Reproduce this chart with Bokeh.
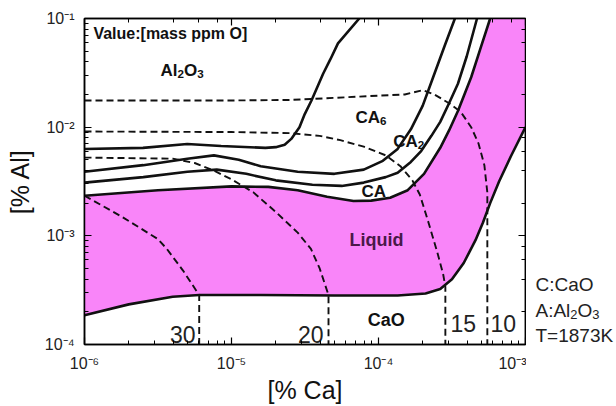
import numpy as np
from bokeh.plotting import figure
from bokeh.layouts import row
from bokeh.models import LogAxis, LogTicker, CustomJSTickFormatter, Range1d
from bokeh.core.properties import value
from bokeh.embed import file_html
from bokeh.resources import INLINE

FONT = "Liberation Sans"

# ---- phase boundaries (% Ca, % Al) ----
al2o3_ca6_ca = [1.0e-6, 2.5e-6, 5.0e-6, 8.5e-6, 1.7e-5, 2.0e-5, 2.3e-5, 2.55e-5, 2.9e-5, 3.15e-5, 3.5e-5, 4.2e-5, 4.7e-5, 5.3e-5, 7.4e-5]
al2o3_ca6_al = [6.3e-3, 6.45e-3, 7.0e-3, 6.7e-3, 6.45e-3, 6.55e-3, 6.9e-3, 7.8e-3, 1.0e-2, 1.32e-2, 1.76e-2, 3.1e-2, 4.2e-2, 5.9e-2, 1.0e-1]

ca6_ca2_ca = [1.0e-6, 2.51e-6, 5.01e-6, 7.59e-6, 1.12e-5, 1.58e-5, 2.82e-5, 5.01e-5, 7.94e-5, 1.07e-4, 1.35e-4, 1.66e-4, 2.0e-4, 2.34e-4, 2.82e-4, 3.31e-4]
ca6_ca2_al = [3.89e-3, 4.47e-3, 5.13e-3, 5.5e-3, 5.01e-3, 4.37e-3, 3.89e-3, 3.72e-3, 4.07e-3, 4.9e-3, 6.31e-3, 9.55e-3, 1.58e-2, 2.82e-2, 5.62e-2, 1.0e-1]

ca2_ca_ca = [1.0e-6, 2.51e-6, 5.01e-6, 7.94e-6, 1.26e-5, 2.0e-5, 3.55e-5, 5.62e-5, 7.94e-5, 1.12e-4, 1.35e-4, 1.66e-4, 1.95e-4, 2.29e-4, 2.63e-4, 3.02e-4, 3.47e-4, 3.98e-4, 4.68e-4]
ca2_ca_al = [3.09e-3, 3.47e-3, 3.89e-3, 4.07e-3, 3.72e-3, 3.24e-3, 2.95e-3, 2.88e-3, 3.09e-3, 3.47e-3, 3.8e-3, 4.79e-3, 6.03e-3, 8.32e-3, 1.12e-2, 1.66e-2, 2.51e-2, 4.47e-2, 1.0e-1]

liq_top_ca = [1.0e-6, 3.16e-6, 1.0e-5, 1.78e-5, 2.82e-5, 4.47e-5, 6.76e-5, 8.91e-5, 1.2e-4, 1.58e-4, 2.04e-4, 2.63e-4, 3.02e-4, 3.47e-4, 4.27e-4, 5.01e-4, 5.75e-4]
liq_top_al = [2.34e-3, 2.63e-3, 2.85e-3, 2.82e-3, 2.63e-3, 2.29e-3, 2.09e-3, 2.11e-3, 2.24e-3, 2.63e-3, 3.72e-3, 6.46e-3, 9.33e-3, 1.41e-2, 2.88e-2, 5.62e-2, 1.0e-1]

liq_bot_ca = [1.0e-3, 7.94e-4, 6.61e-4, 5.75e-4, 5.13e-4, 4.57e-4, 3.8e-4, 3.16e-4, 2.63e-4, 2.09e-4, 1.35e-4, 5.01e-5, 1.58e-5, 6.03e-6, 3.98e-6, 2.0e-6, 1.0e-6]
liq_bot_al = [1.0e-2, 5.37e-3, 3.16e-3, 2.0e-3, 1.32e-3, 9.12e-4, 5.62e-4, 3.98e-4, 3.24e-4, 2.95e-4, 2.82e-4, 2.82e-4, 2.85e-4, 2.85e-4, 2.75e-4, 2.34e-4, 1.86e-4]

# ---- iso-oxygen lines [mass ppm O] ----
o10_ca = [1.0e-6, 1.0e-5, 2.51e-5, 5.01e-5, 1.0e-4, 1.51e-4, 2.0e-4, 2.4e-4, 3.02e-4, 3.63e-4, 4.27e-4, 4.79e-4, 5.25e-4, 5.5e-4, 5.5e-4, 5.5e-4]
o10_al = [1.76e-2, 1.76e-2, 1.78e-2, 1.86e-2, 1.95e-2, 2.0e-2, 2.19e-2, 2.0e-2, 1.66e-2, 1.38e-2, 1.0e-2, 7.08e-3, 4.47e-3, 2.51e-3, 1.78e-3, 1.0e-4]

o15_ca = [1.0e-6, 1.0e-5, 2.51e-5, 3.98e-5, 5.5e-5, 7.94e-5, 1.12e-4, 1.41e-4, 1.7e-4, 1.91e-4, 2.19e-4, 2.51e-4, 2.75e-4, 2.85e-4, 2.85e-4]
o15_al = [9.12e-3, 9.02e-3, 8.81e-3, 8.32e-3, 7.59e-3, 6.61e-3, 5.5e-3, 4.37e-3, 3.24e-3, 2.4e-3, 1.32e-3, 7.08e-4, 4.47e-4, 3.39e-4, 1.0e-4]

o20_ca = [1.0e-6, 3.98e-6, 5.62e-6, 7.59e-6, 1.0e-5, 1.41e-5, 2.0e-5, 2.82e-5, 3.47e-5, 3.98e-5, 4.57e-5, 4.57e-5]
o20_al = [5.25e-3, 5.13e-3, 4.68e-3, 3.98e-3, 3.31e-3, 2.51e-3, 1.66e-3, 1.07e-3, 7.59e-4, 5.01e-4, 2.85e-4, 1.0e-4]

o30_ca = [1.0e-6, 1.78e-6, 3.16e-6, 3.63e-6, 4.68e-6, 6.03e-6, 6.03e-6]
o30_al = [2.34e-3, 1.51e-3, 9.33e-4, 7.59e-4, 4.79e-4, 2.85e-4, 1.0e-4]

x_lim = [1e-6, 1e-3]
y_lim = [1e-4, 1e-1]

p = figure(width=526, height=406, x_axis_type="log", y_axis_type="log",
           x_range=Range1d(*x_lim), y_range=Range1d(*y_lim),
           output_backend="svg", toolbar_location=None,
           min_border_left=84, min_border_right=1, min_border_top=18, min_border_bottom=62)
p.xgrid.visible = False
p.ygrid.visible = False
p.outline_line_color = "black"
p.outline_line_width = 1.5
p.background_fill_color = "white"
p.border_fill_color = "white"

# liquid region
pink_x = liq_top_ca + [x_lim[1]] + liq_bot_ca
pink_y = liq_top_al + [y_lim[1]] + liq_bot_al
p.patch(pink_x, pink_y, fill_color="#F985F9", line_color=None)

for xs, ys in [(o10_ca, o10_al), (o15_ca, o15_al), (o20_ca, o20_al), (o30_ca, o30_al)]:
    p.line(xs, ys, line_color="#111111", line_width=1.9, line_dash="7 4")

for xs, ys in [(al2o3_ca6_ca, al2o3_ca6_al), (ca6_ca2_ca, ca6_ca2_al), (ca2_ca_ca, ca2_ca_al),
               (liq_top_ca, liq_top_al), (liq_bot_ca, liq_bot_al)]:
    p.line(xs, ys, line_color="#111111", line_width=2.6)

sup_fmt = CustomJSTickFormatter(code="""
const sup = {"-":"\u207b","0":"\u2070","1":"\u00b9","2":"\u00b2","3":"\u00b3","4":"\u2074","5":"\u2075","6":"\u2076","7":"\u2077","8":"\u2078","9":"\u2079"};
const e = Math.round(Math.log10(tick)).toString();
return "10" + e.split("").map(c => sup[c]).join("");
""")
blank_fmt = CustomJSTickFormatter(code='return "";')

def style_axis(ax):
    ax.major_tick_in = 7
    ax.major_tick_out = 0
    ax.minor_tick_in = 4
    ax.minor_tick_out = 0
    ax.axis_line_width = 1.5
    ax.major_tick_line_width = 1.2
    ax.minor_tick_line_width = 1.0
    ax.major_label_text_font = FONT
    ax.major_label_text_font_size = "16px"
    ax.major_label_text_color = "#222222"
    ax.axis_label_text_font = FONT
    ax.axis_label_text_font_size = "25px"
    ax.axis_label_text_font_style = "normal"
    ax.axis_label_text_color = "#111111"

p.xaxis.formatter = sup_fmt
p.yaxis.formatter = sup_fmt
p.xaxis.axis_label = "[% Ca]"
p.yaxis.axis_label = "[% Al]"
style_axis(p.xaxis[0])
style_axis(p.yaxis[0])
p.xaxis.major_label_standoff = 10
p.yaxis.major_label_standoff = 10
p.xaxis.axis_label_standoff = 1
p.yaxis.axis_label_standoff = 8

for loc in ["above", "right"]:
    ax = LogAxis(ticker=LogTicker(), formatter=blank_fmt)
    style_axis(ax)
    ax.major_label_text_font_size = "0px"
    ax.major_label_standoff = 0
    p.add_layout(ax, loc)

# approximate advance widths (em) of Liberation Sans, for placing subscripts
W_BOLD = {"A": .722, "C": .722, "l": .278, "O": .778}
W_REG = {"A": .667, "C": .722, "l": .222, "O": .778, ":": .278}

def rich(fig, x, y, parts, size, bold=True, color="#111111"):
    widths = W_BOLD if bold else W_REG
    off = 0.0
    for s, sub in parts:
        fs = size * 0.68 if sub else size
        dy = size * 0.2 if sub else 0
        fig.text(x=[x], y=[y], text=[s], x_offset=off, y_offset=dy,
                 text_font=value(FONT), text_font_size=f"{fs:.1f}px",
                 text_font_style="bold" if bold else "normal",
                 text_align="left", text_baseline="alphabetic", text_color=color)
        off += sum(widths.get(c, .556) for c in s) * fs

def txt(x, y, s, size, style="bold", align="left", baseline="middle", color="#111111"):
    p.text(x=[x], y=[y], text=[s], text_font=value(FONT), text_font_size=size,
           text_font_style=style, text_align=align, text_baseline=baseline, text_color=color)

txt(1.15e-6, 7.28e-2, "Value:[mass ppm O]", "16px")
rich(p, 3.29e-6, 3.32e-2, [("Al", False), ("2", True), ("O", False), ("3", True)], 17)
rich(p, 6.97e-5, 1.23e-2, [("CA", False), ("6", True)], 17)
rich(p, 1.26e-4, 7.38e-3, [("CA", False), ("2", True)], 17)
txt(7.66e-5, 2.57e-3, "CA", "17px")
txt(9.7e-5, 9.08e-4, "Liquid", "18px", align="center", color="#4A1848")
txt(1.13e-4, 1.67e-4, "CaO", "18px", align="center")
txt(5.69e-6, 1.24e-4, "30", "23px", style="normal", align="right", baseline="alphabetic", color="#222222")
txt(4.23e-5, 1.24e-4, "20", "23px", style="normal", align="right", baseline="alphabetic", color="#222222")
txt(3.09e-4, 1.56e-4, "15", "23px", style="normal", align="left", baseline="alphabetic", color="#222222")
txt(5.78e-4, 1.56e-4, "10", "23px", style="normal", align="left", baseline="alphabetic", color="#222222")

# side panel with the legend text; its frame is aligned with the main frame,
# so y here counts pixels up from the main plot's bottom edge
side = figure(width=90, height=406, x_range=Range1d(0, 90), y_range=Range1d(0, 326),
              x_axis_location=None, y_axis_location=None, output_backend="svg",
              toolbar_location=None, min_border=0)
side.xgrid.visible = False
side.ygrid.visible = False
side.outline_line_color = None
side.border_fill_color = "white"
side.background_fill_color = "white"
rich(side, 9, 60, [("C:CaO", False)], 19, bold=False, color="#222222")
rich(side, 9, 34, [("A:Al", False), ("2", True), ("O", False), ("3", True)], 19, bold=False, color="#222222")
rich(side, 9, 9, [("T=1873K", False)], 19, bold=False, color="#222222")

layout = row(p, side, spacing=0)
open("out.html", "w").write(file_html(layout, INLINE))
